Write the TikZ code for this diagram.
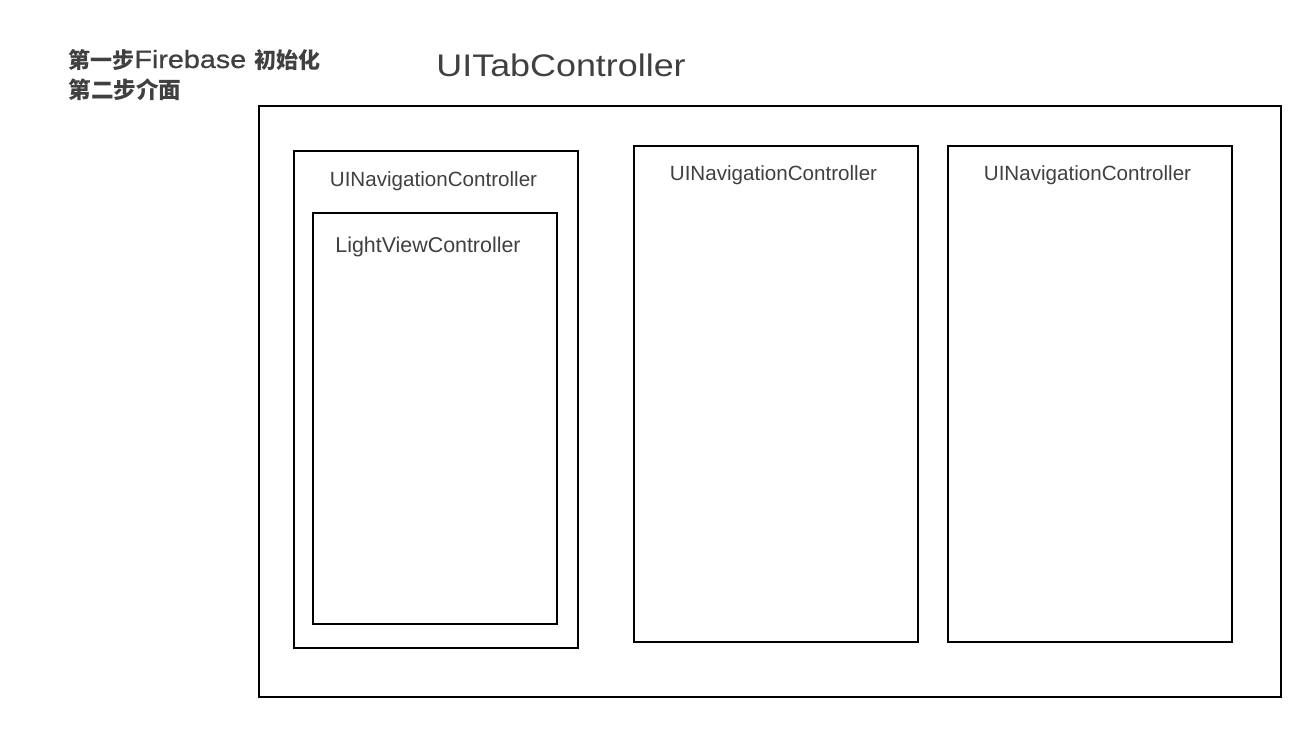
\documentclass[tikz,border=0pt]{standalone}
\usepackage{fontspec}
\setmainfont{Liberation Sans}
\newfontfamily\widefont{Liberation Sans}[FakeStretch=1.15]
\newfontfamily\notefont{Liberation Sans}[FakeStretch=1.15, FakeBold=0.8]
\newfontfamily\cjk{Noto Sans CJK SC}
\definecolor{labelgray}{gray}{0.25}

\tikzset{
  frame/.style={draw=black, line width=0.8pt},
  boxlabel/.style={text=labelgray, inner sep=0pt, anchor=base, font=\fontsize{10.3}{12}\selectfont},
  note/.style={text=labelgray, inner sep=0pt, anchor=base west}
}

\begin{document}
\begin{tikzpicture}[x=0.5pt, y=-0.5pt]
    \useasboundingbox (0,0) rectangle (1312,729);

    % Notes in the upper left corner
    \node[note] (step1) at (68,68) {{\cjk\bfseries\fontsize{11}{13}\selectfont 第一步}{\notefont\fontsize{12.5}{14}\selectfont Firebase }{\cjk\bfseries\fontsize{11}{13}\selectfont 初始化}};
    \node[note] (step2) at (68,98) {\cjk\bfseries\fontsize{11.3}{13}\selectfont 第二步介面};

    % Title of the tab controller
    \node[text=labelgray, inner sep=0pt, anchor=base west] (tabtitle) at (436,76) {\widefont\fontsize{15.6}{18}\selectfont UITabController};

    % Outer tab controller frame
    \draw[frame] (259,106) rectangle (1281,697);

    % Three navigation controllers
    \draw[frame] (294,151) rectangle (578,648);
    \draw[frame] (634,146) rectangle (918,642);
    \draw[frame] (948,146) rectangle (1232,642);
    \node[boxlabel] (nav1) at (433.5,186) {UINavigationController};
    \node[boxlabel] (nav2) at (773.5,180) {UINavigationController};
    \node[boxlabel] (nav3) at (1087.5,180) {UINavigationController};

    % View controller inside the first one
    \draw[frame, line width=0.6pt] (313,213) rectangle (557,624);
    \node[boxlabel, font=\fontsize{10.7}{12}\selectfont] (light) at (428,252) {LightViewController};
\end{tikzpicture}
\end{document}
